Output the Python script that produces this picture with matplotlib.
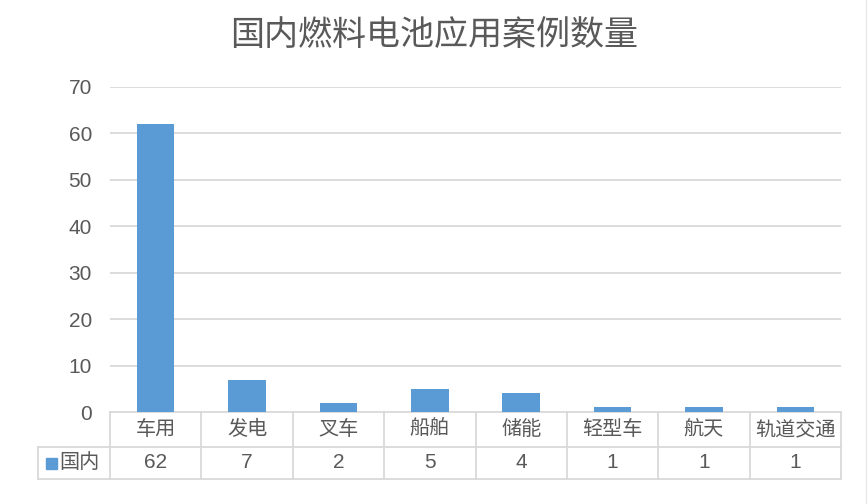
import matplotlib
matplotlib.use('Agg')
import matplotlib.pyplot as plt
import numpy as np

plt.rcParams['font.family'] = ['Liberation Sans', 'Noto Sans CJK SC', 'DejaVu Sans']

title = '国内燃料电池应用案例数量'
categories = ['车用', '发电', '叉车', '船舶', '储能', '轻型车', '航天', '轨道交通']
values = [62, 7, 2, 5, 4, 1, 1, 1]
series_name = '国内'
y_ticks = [0, 10, 20, 30, 40, 50, 60, 70]

bar_color = '#5b9bd5'
text_color = '#595959'
line_color = '#d9d9d9'

W, H = 868, 504
fig = plt.figure(figsize=(W / 100, H / 100), dpi=100)
# plot area in pixels: left 110, right 841, top 87, bottom 412
left, right, top, bottom = 110, 841, 87, 412
ax = fig.add_axes([left / W, 1 - bottom / H, (right - left) / W, (bottom - top) / H])

x = np.arange(len(categories))
ax.bar(x, values, width=0.41, color=bar_color, zorder=3)
ax.set_xlim(-0.5, len(categories) - 0.5)
ax.set_ylim(0, 70)
ax.set_yticks(y_ticks)
ax.set_yticklabels([str(v) for v in y_ticks], fontsize=15, color=text_color)
ax.tick_params(axis='y', length=0, pad=13)
ax.set_xticks([])
for s in ax.spines.values():
    s.set_visible(False)
for v in y_ticks[1:]:
    ax.axhline(v, color=line_color, lw=1.3, zorder=1)

# data table below the axis
tr = ax.get_xaxis_transform()
h = bottom - top
row1 = -(447 - bottom) / h
row2 = -(479 - bottom) / h
px_per_cat = (right - left) / len(categories)
leg_left = -0.5 - (left - 38) / px_per_cat
kw = dict(color=line_color, lw=1.3, transform=tr, clip_on=False, zorder=2)
ax.plot([-0.5, len(categories) - 0.5], [0, 0], **kw)
ax.plot([leg_left, len(categories) - 0.5], [row1, row1], **kw)
ax.plot([leg_left, len(categories) - 0.5], [row2, row2], **kw)
ax.plot([leg_left, leg_left], [row1, row2], **kw)
for b in np.arange(len(categories) + 1) - 0.5:
    ax.plot([b, b], [0, row2], **kw)

for i, (c, v) in enumerate(zip(categories, values)):
    ax.text(i, row1 / 2, c, transform=tr, ha='center', va='center',
            fontsize=14.5, color=text_color)
    ax.text(i, (row1 + row2) / 2, str(v), transform=tr, ha='center', va='center',
            fontsize=15, color=text_color)

# legend key in the table
key_w = 11 / px_per_cat
ax.add_patch(plt.Rectangle((leg_left + 8 / px_per_cat, (row1 + row2) / 2 - 5.5 / h),
                           key_w, 11 / h, transform=tr, color=bar_color, clip_on=False))
ax.text(leg_left + 21 / px_per_cat, (row1 + row2) / 2, series_name, transform=tr,
        ha='left', va='center', fontsize=14.5, color=text_color)

fig.text(0.5, 1 - 36 / H, title, ha='center', va='center', fontsize=24.5, color=text_color)
fig.add_artist(plt.Line2D([866 / W, 866 / W], [0, 1], color='#e8e8e8', lw=1))

fig.savefig('out.png', dpi=100)
